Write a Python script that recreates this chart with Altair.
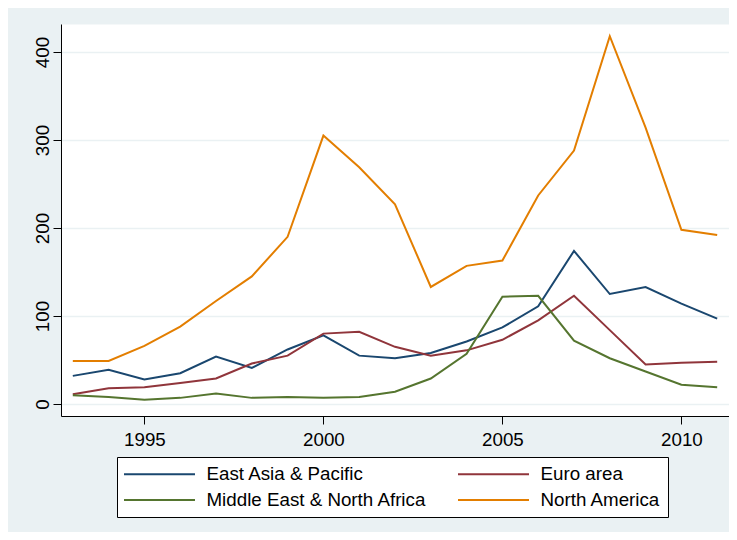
import altair as alt
import pandas as pd

years = list(range(1993, 2012))
series_names = ["East Asia & Pacific", "Euro area", "Middle East & North Africa", "North America"]
east_asia = [32, 39, 28, 35, 54, 41, 62, 78, 55, 52, 58, 71, 87, 111, 174, 125, 133, 114, 97]
euro_area = [11, 18, 19, 24, 29, 46, 55, 80, 82, 65, 55, 61, 73, 95, 123, 84, 45, 47, 48]
mena = [10, 8, 5, 7, 12, 7, 8, 7, 8, 14, 29, 57, 122, 123, 72, 52, 37, 22, 19]
north_america = [49, 49, 66, 88, 117, 145, 190, 305, 269, 227, 133, 157, 163, 237, 288, 418, 314, 198, 192]
colors = {"East Asia & Pacific": "#1A476F", "Euro area": "#90353B",
          "Middle East & North Africa": "#55752F", "North America": "#E37E00"}
# legend is filled column by column: column 1 then column 2
legend_order = ["East Asia & Pacific", "Middle East & North Africa", "Euro area", "North America"]
x_ticks = [1995, 2000, 2005, 2010]
y_ticks = [0, 100, 200, 300, 400]

rows = []
for name, vals in zip(series_names, [east_asia, euro_area, mena, north_america]):
    for yr, v in zip(years, vals):
        rows.append({"year": yr, "value": v, "series": name})
df = pd.DataFrame(rows)

FONT = "Liberation Sans"
BG = "#EAF1F3"
FS = 18.75

chart = alt.Chart(df).mark_line(strokeWidth=2).encode(
    x=alt.X("year:Q",
            scale=alt.Scale(domain=[1992.67, 2011.33], nice=False, zero=False),
            axis=alt.Axis(values=x_ticks, format="d", title=None, grid=False,
                          tickSize=8, labelPadding=6, labelFontSize=FS,
                          labelFont=FONT, labelColor="#000", tickColor="#000",
                          domainColor="#000", labelFlush=False)),
    y=alt.Y("value:Q",
            scale=alt.Scale(domain=[-13.6, 431.8], nice=False, zero=False),
            axis=alt.Axis(values=y_ticks, title=None, grid=True, gridColor=BG,
                          gridWidth=1.5, tickSize=8, labelAngle=270,
                          labelAlign="center", labelBaseline="alphabetic",
                          labelPadding=5, labelFontSize=FS, labelFont=FONT,
                          labelColor="#000", tickColor="#000", domainColor="#000")),
    color=alt.Color("series:N", title=None,
                    scale=alt.Scale(domain=legend_order,
                                    range=[colors[n] for n in legend_order]),
                    legend=alt.Legend(orient="none", legendX=56, legendY=433,
                                      columns=2, columnPadding=27, rowPadding=6,
                                      symbolType="M-4,0H4", symbolSize=315,
                                      symbolStrokeWidth=2, symbolOffset=25.5,
                                      labelOffset=37, labelFontSize=FS,
                                      labelFont=FONT, labelColor="#000",
                                      labelLimit=400, padding=7,
                                      strokeColor="#000", fillColor="white",
                                      cornerRadius=0)),
).properties(
    width=668, height=392,
    autosize=alt.AutoSizeParams(type="none"),
    padding={"left": 53, "top": 16, "right": 0, "bottom": 116},
    background=BG,
).configure_view(fill="white", stroke="transparent")

chart.save("out.html", embed_options={"renderer": "svg", "actions": False})
